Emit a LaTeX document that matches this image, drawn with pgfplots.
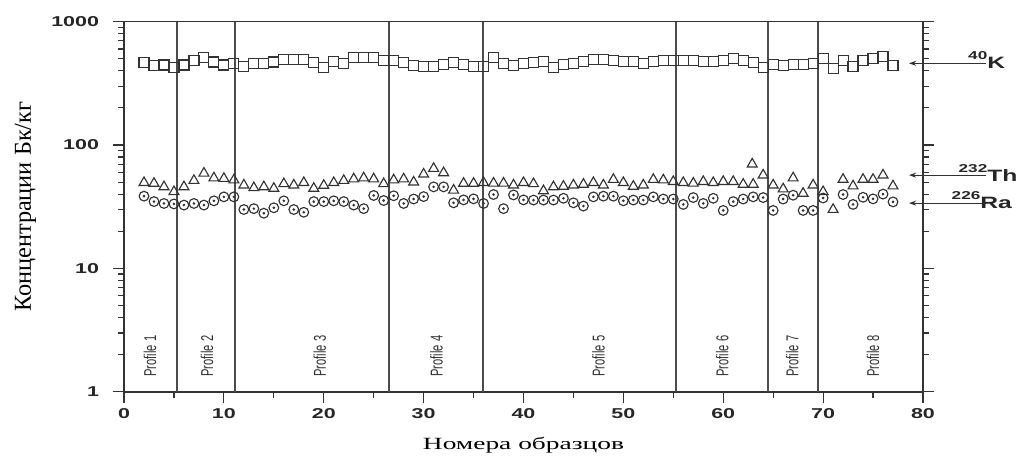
\documentclass[border=0pt]{standalone}
\usepackage{pgfplots}
\usepackage{pgfplotstable}
\pgfplotsset{compat=1.18}
\usepackage{fontspec}
\usetikzlibrary{arrows.meta}
\setmainfont{Liberation Serif}
\newfontfamily\tickfont[FakeStretch=1.5]{Liberation Sans}
\newfontfamily\xlabfont[FakeStretch=1.6]{Liberation Serif}
\newfontfamily\proffont[FakeStretch=0.65]{Liberation Sans}

\pgfdeclareplotmark{odot}{%
  \pgfpathcircle{\pgfpointorigin}{\pgfplotmarksize}\pgfusepathqstroke
  \pgfpathcircle{\pgfpointorigin}{0.3\pgfplotmarksize}\pgfusepathqfill}

\pgfplotstableread{
x y
2 465
3 440
4 445
5 425
6 445
7 480
8 515
9 470
10 445
11 455
12 435
13 455
14 455
15 470
16 490
17 490
18 490
19 465
20 427
21 472
22 458
23 515
24 515
25 508
26 482
27 482
28 464
29 444
30 435
31 435
32 452
33 464
34 452
35 435
36 435
37 510
38 458
39 444
40 455
41 464
42 473
43 427
44 452
45 458
46 473
47 495
48 495
49 487
50 473
51 473
52 458
53 473
54 482
55 482
56 482
57 487
58 473
59 473
60 485
61 503
62 487
63 464
64 422
65 452
66 444
67 452
68 452
69 458
70 505
71 420
72 487
73 435
74 487
75 503
76 519
77 444
}\dataK

\pgfplotstableread{
x y
2 49.5
3 48.8
4 45.8
5 41.8
6 45.8
7 51.5
8 59
9 54
10 53.5
11 52
12 47.3
13 45
14 45.8
15 44.5
16 48.5
17 47.3
18 49.5
19 44.5
20 47
21 49.5
22 51.5
23 53
24 54
25 53
26 48.5
27 52
28 53
29 50
30 58
31 64.5
32 59.5
33 43
34 48.8
35 48.8
36 49.5
37 49
38 49
39 47.3
40 49.5
41 48.5
42 42.5
43 45.8
44 46.2
45 47.3
46 48
47 49.5
48 47.3
49 52.5
50 49.5
51 46.2
52 47.3
53 52.5
54 52
55 50.5
56 49.5
57 49
58 50.5
59 49.5
60 50.5
61 50.5
62 48
62.9 70
63 48
64 57
65 47.3
66 44
67 54
68 40.5
69 47.3
70 41.8
71 30
72 52.6
73 46.5
74 52.6
75 52.6
76 57
77 46.5
}\dataTh

\pgfplotstableread{
x y
2 38.5
3 34.8
4 33.6
5 33.3
6 32.6
7 33.6
8 32.6
9 35.3
10 38
11 38
12 30
13 30.5
14 28
15 31
16 35.3
17 30
18 28.5
19 34.8
20 34.8
21 35.3
22 34.8
23 32.6
24 30.5
25 39
26 35.5
27 38.8
28 33.6
29 36.5
30 38.2
31 45.8
32 45.8
33 34
34 35.9
35 36.6
36 33.6
37 39.7
38 30.5
39 39.4
40 35.9
41 35.8
42 35.8
43 35.8
44 37
45 34
46 32
47 38
48 38.5
49 38.5
50 35.3
51 35.8
52 35.8
53 38
54 36.5
55 36.5
56 33
57 37.5
58 33.6
59 37
60 29.5
61 34.8
62 36.5
63 38
64 37.5
65 29.5
66 36.5
67 39.2
68 29.5
69 29.5
70 37.2
72 39.7
73 33
74 37.7
75 36.6
76 40
77 34.6
}\dataRa

\begin{document}
\begin{tikzpicture}
\begin{axis}[
  at={(0pt,0pt)}, anchor=south west,
  scale only axis, width=559.1pt, height=259.1pt,
  xmin=0, xmax=80, ymin=1, ymax=1000, ymode=log,
  xtick={0,10,20,30,40,50,60,70,80},
  xticklabels={0,10,20,30,40,50,60,70,80},
  minor x tick num=1,
  ytick={1,10,100,1000}, yticklabels={1,10,100,1000},
  tick align=outside, xtick pos=left, ytick pos=both,
  major tick length=8pt, minor tick length=4pt,
  axis line style={line width=1pt, black!80},
  every tick/.style={black!80, line width=0.8pt},
  tick label style={font=\tickfont\bfseries\fontsize{10}{12}\selectfont, text=black!85},
  yticklabel style={xshift=-6pt},
  /pgf/number format/assume math mode=true,
  xlabel={Номера образцов},
  ylabel={Концентрации Бк/кг},
  xlabel style={font=\xlabfont\fontsize{12}{14}\selectfont, at={(axis description cs:0.5,-0.1437)}, anchor=center},
  ylabel style={font=\fontsize{17}{20}\selectfont, at={(axis description cs:-0.1234,0.5)}, anchor=center},
  clip=false,
  every axis plot/.append style={line width=0.8pt},
]
% profile boundaries
\addplot[black!70, line width=1.3pt] coordinates {(5.3,1) (5.3,1000)};
\addplot[black!70, line width=1.3pt] coordinates {(11.15,1) (11.15,1000)};
\addplot[black!70, line width=1.3pt] coordinates {(26.55,1) (26.55,1000)};
\addplot[black!70, line width=1.3pt] coordinates {(35.95,1) (35.95,1000)};
\addplot[black!70, line width=1.3pt] coordinates {(55.3,1) (55.3,1000)};
\addplot[black!70, line width=1.3pt] coordinates {(64.45,1) (64.45,1000)};
\addplot[black!70, line width=1.3pt] coordinates {(69.45,1) (69.45,1000)};

\addplot[only marks, mark=square, mark size=3.5pt, black!80] table {\dataK};
\addplot[only marks, mark=triangle, mark size=4pt, black!80] table {\dataTh};
\addplot[only marks, mark=odot, mark size=3.4pt, black!80] table {\dataRa};

\foreach \px/\lab in {2.6/Profile 1, 8.3/Profile 2, 19.6/Profile 3, 31.3/Profile 4, 47.5/Profile 5, 59.9/Profile 6, 66.9/Profile 7, 75.0/Profile 8}{
  \edef\temp{\noexpand\node[rotate=90, anchor=west, inner sep=0pt, font=\noexpand\proffont\noexpand\fontsize{12}{14}\noexpand\selectfont, text=black!80] at (axis cs:\px,1.32) {\lab};}
  \temp
}

\draw[black!80, line width=0.8pt, -{Stealth[length=5pt,width=3.5pt]}] (axis cs:86.3,459) -- (axis cs:78.6,459);
\draw[black!80, line width=0.8pt, -{Stealth[length=5pt,width=3.5pt]}] (axis cs:86.3,57) -- (axis cs:78.6,57);
\draw[black!80, line width=0.8pt, -{Stealth[length=5pt,width=3.5pt]}] (axis cs:86.3,33.8) -- (axis cs:78.6,33.8);

\node[anchor=west, inner sep=0.8pt, font=\tickfont\bfseries\fontsize{11.5}{13}\selectfont, text=black!85] at (axis cs:86.3,459) {\llap{\smash{\raisebox{0.55em}{\fontsize{8}{9}\selectfont 40}}}K};
\node[anchor=west, inner sep=0.8pt, font=\tickfont\bfseries\fontsize{11.5}{13}\selectfont, text=black!85] at (axis cs:86.3,57) {\llap{\smash{\raisebox{0.55em}{\fontsize{8}{9}\selectfont 232}}}Th};
\node[anchor=west, inner sep=0.8pt, font=\tickfont\bfseries\fontsize{11.5}{13}\selectfont, text=black!85] at (axis cs:85.6,33.8) {\llap{\smash{\raisebox{0.55em}{\fontsize{8}{9}\selectfont 226}}}Ra};
\end{axis}
\pgfresetboundingbox
\path[use as bounding box] (-86.8pt,-45pt) rectangle (627.7pt,274.2pt);
\end{tikzpicture}
\end{document}
